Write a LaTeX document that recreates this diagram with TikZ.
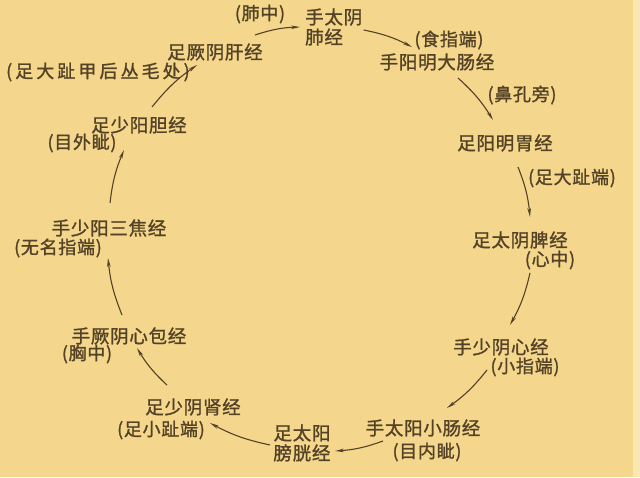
\documentclass[tikz,border=0pt]{standalone}
\usepackage{fontspec}
\newfontfamily\cjk{Noto Sans CJK SC}[LetterSpace=4, FakeBold=1.3]
\newfontfamily\cjkwide{Noto Sans CJK SC}[LetterSpace=17, FakeBold=1.3]
\usetikzlibrary{arrows.meta}
\definecolor{bg}{RGB}{244,215,140}
\definecolor{edge}{RGB}{250,232,178}
\definecolor{ink}{RGB}{84,66,38}
\tikzset{
  mer/.style={font=\cjk\fontsize{18.5}{20}\selectfont, text=ink, inner sep=0pt},
  lbl/.style={font=\cjk\fontsize{18}{20}\selectfont, text=ink, inner sep=0pt},
  flow/.style={draw=ink, line width=1.1pt, -{Stealth[length=9pt,width=3.6pt]}, bend left=8},
}
\begin{document}
\begin{tikzpicture}[x=1pt,y=1pt]
\fill[bg] (0,0) rectangle (640,477);
\fill[edge] (633,0) rectangle (640,477);
\useasboundingbox (0,0) rectangle (640,477);
% meridians
\node[mer, align=left, anchor=west] (lu) at (305,450) {手太阴\\肺经};
\node[mer] (li) at (437,415) {手阳明大肠经};
\node[mer] (st) at (505,334) {足阳明胃经};
\node[mer] (sp) at (520,237) {足太阴脾经};
\node[mer] (ht) at (501,130) {手少阴心经};
\node[mer] (si) at (423,49) {手太阳小肠经};
\node[mer, align=center] (bl) at (302,34) {足太阳\\膀胱经};
\node[mer] (ki) at (193,70) {足少阴肾经};
\node[mer] (pc) at (129,141) {手厥阴心包经};
\node[mer] (sj) at (109,249) {手少阳三焦经};
\node[mer] (gb) at (139,352) {足少阳胆经};
\node[mer] (lv) at (215,425) {足厥阴肝经};
% junction labels
\node[lbl] (luL) at (260,463) {(肺中)};
\node[lbl] (liL) at (449,437) {(食指端)};
\node[lbl] (stL) at (522,382) {(鼻孔旁)};
\node[lbl] (spA) at (572,299) {(足大趾端)};
\node[lbl] (spL) at (550,217) {(心中)};
\node[lbl] (htL) at (525,110) {(小指端)};
\node[lbl] (siL) at (427,25) {(目内眦)};
\node[lbl] (kiL) at (161,47) {(足小趾端)};
\node[lbl] (pcL) at (87,123) {(胸中)};
\node[lbl] (sjL) at (58,229) {(无名指端)};
\node[lbl] (gbL) at (82,334) {(目外眦)};
\node[lbl, font=\cjkwide\fontsize{18}{20}\selectfont, anchor=east] (lvL) at (190,405) {(足大趾甲后丛毛处)};
% connectors
\draw[flow] ([shift={(40,17)}]lv.center) to ([shift={(-5,0)}]lu.west);
\draw[flow] ([shift={(30,-3)}]lu.center) to ([shift={(-25,15)}]li.center);
\draw[flow] ([shift={(21,-16)}]li.center) to ([shift={(-12,23)}]st.center);
\draw[flow] ([shift={(13,-24)}]st.center) to ([shift={(10,23)}]sp.center);
\draw[flow] ([shift={(10,-33)}]sp.center) to ([shift={(9,22)}]ht.center);
\draw[flow] ([shift={(-14,-23)}]ht.center) to ([shift={(24,20)}]si.center);
\draw[flow] ([shift={(-40,-13)}]si.center) to ([shift={(33,-8)}]bl.center);
\draw[flow] ([shift={(-32,-2)}]bl.center) to ([shift={(17,-16)}]ki.center);
\draw[flow] ([shift={(-26,22)}]ki.center) to ([shift={(8,-12)}]pc.center);
\draw[flow] ([shift={(-7,21)}]pc.center) to ([shift={(-1,-30)}]sj.center);
\draw[flow] ([shift={(1,25)}]sj.center) to ([shift={(-15,-25)}]gb.center);
\draw[flow] ([shift={(13,18)}]gb.center) to ([shift={(-18,-13)}]lv.center);
\end{tikzpicture}
\end{document}
